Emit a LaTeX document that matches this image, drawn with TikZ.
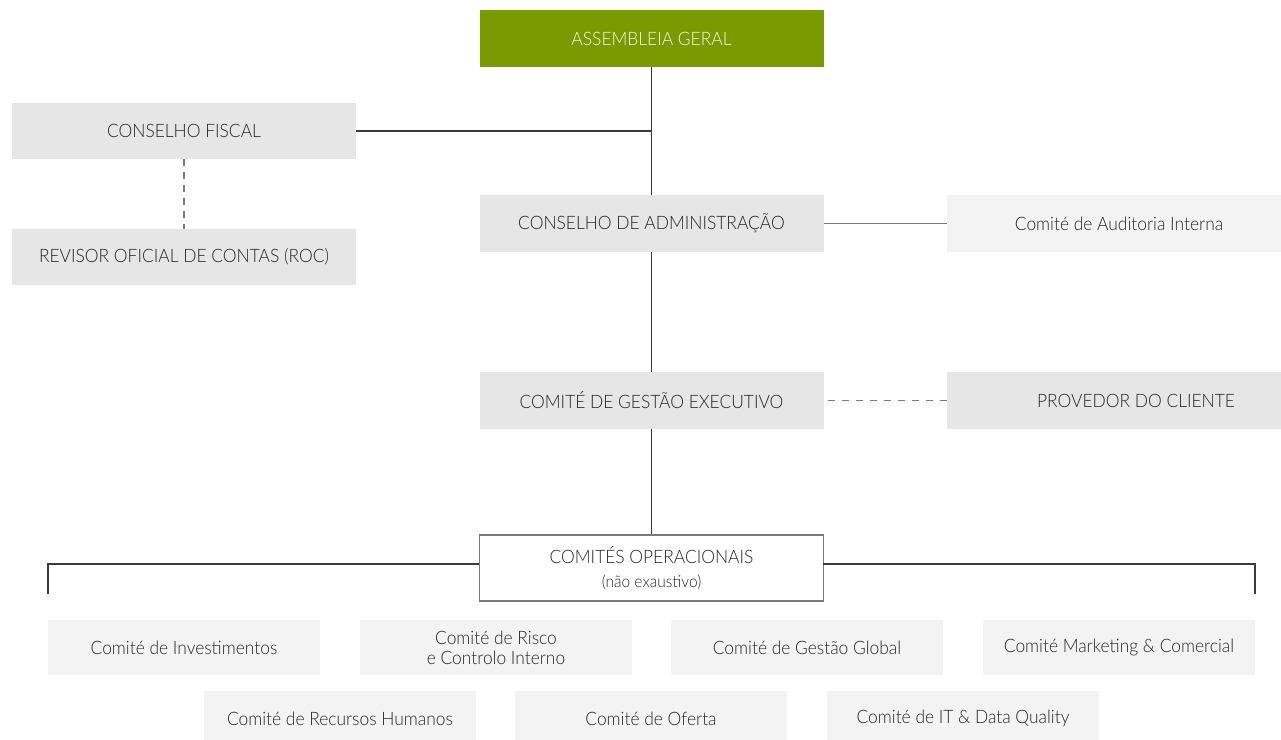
\documentclass[tikz,border=0pt]{standalone}
\usepackage{fontspec}
\setmainfont{Lato}[UprightFont={* Light},FakeStretch=0.94]
\begin{document}
\begin{tikzpicture}[x=1pt,y=-1pt,
  base/.style={rectangle,inner sep=0pt,text=txt,font=\fontsize{18.5}{22}\selectfont,align=center},
  gbox/.style={base,fill=boxdark,minimum width=344pt,minimum height=57pt},
  lbox/.style={base,fill=boxlight,minimum width=344pt,minimum height=57pt},
  cbox/.style={base,fill=boxlight,minimum width=272pt,minimum height=55pt},
  conn/.style={draw=linedark,line width=1.2pt},
  connlight/.style={draw=linegray,line width=1.2pt},
  dashconn/.style={draw=linegray,line width=1.2pt,dash pattern=on 7pt off 7pt}]
\definecolor{green}{HTML}{7A9A01}
\definecolor{boxdark}{HTML}{E6E6E6}
\definecolor{boxlight}{HTML}{F3F3F3}
\definecolor{txt}{HTML}{262626}
\definecolor{linedark}{HTML}{3A3A3A}
\definecolor{linegray}{HTML}{7A7A7A}
\definecolor{agtxt}{HTML}{F2F6E8}
\useasboundingbox (0,0) rectangle (1281,739);
\clip (0,0) rectangle (1281,739);
% nodes
\node[gbox,fill=green,text=agtxt] (ag) at (651.5,38.5) {ASSEMBLEIA GERAL};
\node[gbox,minimum height=56pt] (cf) at (184,131) {CONSELHO FISCAL};
\node[gbox,minimum height=56pt] (roc) at (184,257) {REVISOR OFICIAL DE CONTAS (ROC)};
\node[gbox] (ca) at (651.5,223.5) {CONSELHO DE ADMINISTRAÇÃO};
\node[lbox] (aud) at (1119,223.5) {Comité de Auditoria Interna};
\node[gbox] (cge) at (651.5,400.5) {COMITÉ DE GESTÃO EXECUTIVO};
\node[gbox] (prov) at (1119,400.5) {\hspace*{34pt}PROVEDOR DO CLIENTE};
\node[base,fill=white,draw=linegray,line width=1.3pt,minimum width=344pt,minimum height=66pt] (op) at (651.5,568)
  {COMITÉS OPERACIONAIS\\[2pt]{\fontsize{16.5}{19}\selectfont(não exaustivo)}};
\node[cbox] (inv) at (184,647.5) {Comité de Investimentos};
\node[cbox] (ris) at (496,647.5) {Comité de Risco\\[-2pt]e Controlo Interno};
\node[cbox] (gg) at (807,647.5) {Comité de Gestão Global};
\node[cbox] (mk) at (1119,647.5) {Comité Marketing \& Comercial};
\node[cbox] (rh) at (340,718.5) {Comité de Recursos Humanos};
\node[cbox] (of) at (651,718.5) {Comité de Oferta};
\node[cbox] (it) at (963,718.5) {Comité de IT \& Data Quality};
% coordinates
\coordinate (opl) at (479,564);
\coordinate (opr) at (823,564);
\coordinate (bl) at (48,594);
\coordinate (br) at (1255,594);
% connectors
\draw[conn] (ag.south) -- (ca.north);
\draw[conn] (cf.east) -- (cf.east -| ag.south);
\draw[dashconn,dash pattern=on 7pt off 6pt] (cf.south) -- (roc.north);
\draw[connlight] (ca.east) -- (aud.west);
\draw[conn] (ca.south) -- (cge.north);
\draw[dashconn] ([xshift=4pt]cge.east) -- (prov.west);
\draw[conn] (cge.south) -- (op.north);
\draw[conn] (opl) -| (bl);
\draw[conn] (opr) -| (br);
\end{tikzpicture}
\end{document}
